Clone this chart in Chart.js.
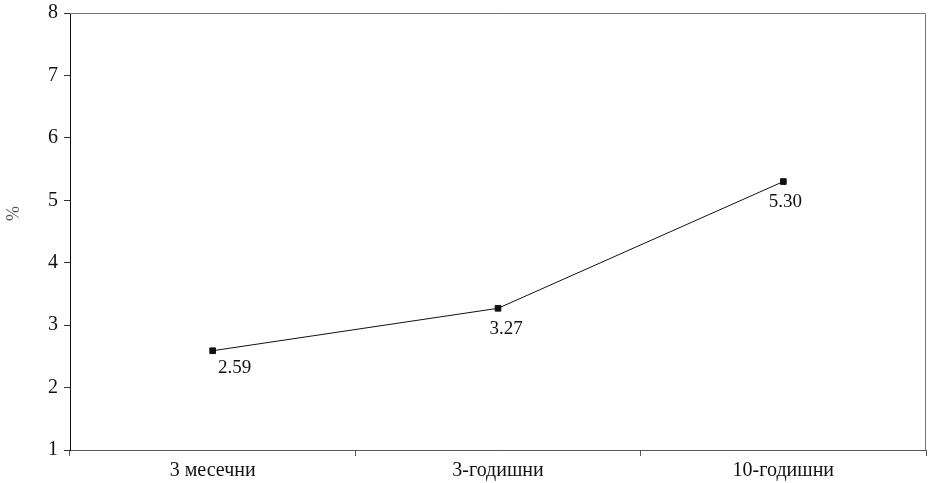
<!DOCTYPE html>
<html lang="bg">
<head>
<meta charset="UTF-8">
<title>Доходност</title>
<script src="https://cdn.jsdelivr.net/npm/chart.js"></script>
<style>
  html, body { margin: 0; padding: 0; background: #fff; }
  #wrap { width: 931px; height: 483px; }
</style>
</head>
<body>
<div id="wrap"><canvas id="chart"></canvas></div>
<script>
  // data
  const categories = ["3 месечни", "3-годишни", "10-годишни"];
  const yields = [2.59, 3.27, 5.30];
  const yTicks = [1, 2, 3, 4, 5, 6, 7, 8];
  const yTitle = "%";

  // label nudges (px) relative to each point
  const labelShift = [[22, 17], [8, 21], [2, 20]];

  const serif = "'Liberation Serif', 'DejaVu Serif', serif";

  const frame = {
    id: "frame",
    afterDraw(chart) {
      const { ctx, chartArea: a } = chart;
      ctx.save();
      ctx.strokeStyle = "#777";
      ctx.lineWidth = 1;
      ctx.beginPath();
      ctx.moveTo(a.left, a.top + 0.5);
      ctx.lineTo(a.right - 0.5, a.top + 0.5);
      ctx.lineTo(a.right - 0.5, a.bottom);
      ctx.stroke();
      // axis title, sits a little above the middle like the original
      ctx.translate(14, (a.top + a.bottom) / 2 - 18);
      ctx.rotate(-Math.PI / 2);
      ctx.font = "18px " + serif;
      ctx.fillStyle = "#555";
      ctx.textAlign = "center";
      ctx.textBaseline = "middle";
      ctx.fillText(yTitle, 0, 0);
      ctx.restore();
    }
  };

  const valueLabels = {
    id: "valueLabels",
    afterDatasetsDraw(chart) {
      const { ctx } = chart;
      const pts = chart.getDatasetMeta(0).data;
      ctx.save();
      ctx.font = "19px " + serif;
      ctx.fillStyle = "#111";
      ctx.textAlign = "center";
      ctx.textBaseline = "middle";
      pts.forEach((p, i) => {
        ctx.fillText(yields[i].toFixed(2), p.x + labelShift[i][0], p.y + labelShift[i][1]);
      });
      ctx.restore();
    }
  };

  new Chart(document.getElementById("chart"), {
    type: "line",
    data: {
      labels: categories,
      datasets: [{
        data: yields,
        borderColor: "#111",
        borderWidth: 1,
        pointStyle: "rect",
        pointRadius: 4,
        pointBackgroundColor: "#111",
        pointBorderColor: "#111",
        tension: 0,
        fill: false
      }]
    },
    options: {
      responsive: true,
      maintainAspectRatio: false,
      animation: false,
      layout: { padding: { top: 13, right: -2, left: 0, bottom: 0 } },
      plugins: { legend: { display: false }, tooltip: { enabled: false } },
      scales: {
        x: {
          offset: true,
          grid: { offset: true, drawOnChartArea: false, tickLength: 6, color: "#555" },
          border: { color: "#555", width: 1 },
          ticks: { color: "#111", font: { family: serif, size: 20 }, padding: 3 },
          afterFit(s) { s.height = 33; s.paddingLeft = 0; s.paddingRight = 0; }
        },
        y: {
          min: 1,
          max: 8,
          afterBuildTicks(s) { s.ticks = yTicks.map(v => ({ value: v })); },
          grid: { drawOnChartArea: false, tickLength: 6, color: "#333" },
          border: { color: "#111", width: 1 },
          ticks: { color: "#111", font: { family: serif, size: 20 }, padding: 6 },
          afterFit(s) { s.width = 70; s.paddingTop = 0; s.paddingBottom = 0; }
        }
      }
    },
    plugins: [frame, valueLabels]
  });
</script>
</body>
</html>
